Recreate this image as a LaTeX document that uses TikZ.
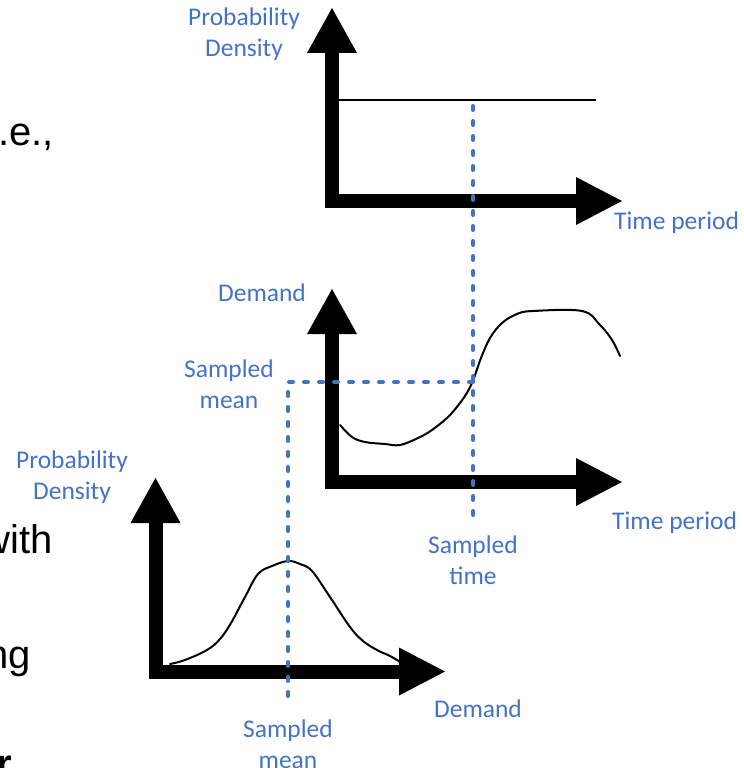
\documentclass[tikz,border=0pt]{standalone}
\usepackage{fontspec}
\setmainfont{Carlito}
\newfontfamily\slidefont{Liberation Sans}
\usetikzlibrary{calc}
\definecolor{lblblue}{HTML}{4472C4}

% thick L-shaped axes with triangular heads: #1,#2 = origin, #3 = top of shaft, #4 = end of shaft
\newcommand\drawaxes[4]{%
  \draw[axisbar] (#1,#3) -- (#1,#2) -- (#4,#2);
  \fill (#1-25,#3) -- (#1,#3-45) -- (#1+25,#3) -- cycle;
  \fill (#4,#2-24) -- (#4+46,#2) -- (#4,#2+24) -- cycle;
}

\begin{document}
\begin{tikzpicture}[x=1bp,y=-1bp,
  axisbar/.style={line width=14bp, line join=miter},
  curve/.style={line width=2bp, line join=round, line cap=round},
  guide/.style={lblblue, line width=4bp, line cap=round, dash pattern=on 4bp off 11bp},
  lbl/.style={text=lblblue, font=\fontsize{25.5bp}{31bp}\selectfont, inner sep=0pt, align=center},
  slide/.style={font=\slidefont\fontsize{40bp}{48bp}\selectfont, inner sep=0pt, anchor=base east}]
\useasboundingbox (0,0) rectangle (744,768);
\clip (0,0) rectangle (744,768);

% fragments of the slide text at the left edge
\node[slide] (t1) at (54,145) {i.e.,};
\node[slide] (t2) at (53,553) {with};
\node[slide] (t3) at (31,668) {ng};
\node[slide, font=\slidefont\bfseries\fontsize{40bp}{48bp}\selectfont, anchor=base west] (t4) at (-4,777) {r};

% top panel: uniform density over time
\drawaxes{332}{201}{53}{576}
\draw[line width=1.5bp] (339,100) -- (596,100);

% middle panel: demand over time
\drawaxes{332}{482}{334}{576}
\draw[curve] plot[smooth, tension=0.6] coordinates {
  (340,425) (352,437) (365,442) (385,444) (400,445) (418,438) (432,430)
  (448,417) (460,403) (468,391) (474,378) (481,358) (490,338) (502,323)
  (517,314) (533,311) (582,311) (600,325) (612,340) (620,356)};

% bottom panel: demand distribution at the sampled time
\drawaxes{155.5}{671.5}{523}{399}
\draw[curve] plot[smooth, tension=0.6] coordinates {
  (170,664) (185,660) (207,650) (220,639) (231,623) (245,597) (258,574)
  (272,566) (288,561) (300,564) (312,571) (330,597) (350,627) (363,641)
  (377,650) (390,656) (402,663)};

% sampling guides
\coordinate (timeTop) at (473,106);
\coordinate (timeBot) at (473,526);
\coordinate (hit) at (473,382);
\coordinate (meanCorner) at (288,382);
\coordinate (meanBot) at (288,700);
\draw[guide] (timeTop) -- (timeBot);
\draw[guide] (hit) -- (meanCorner) -- (meanBot);

% labels
\node[lbl] (pd1) at (244,34) {Probability\\Density};
\node[lbl, anchor=west] (tp1) at (614,223) {Time period};
\node[lbl] (dem1) at (262,293) {Demand};
\node[lbl] (sm1) at (229,384) {Sampled\\mean};
\node[lbl] (pd2) at (72,477) {Probability\\Density};
\node[lbl, anchor=west] (tp2) at (612,523) {Time period};
\node[lbl] (st) at (473,560) {Sampled\\time};
\node[lbl] (sm2) at (288,744) {Sampled\\mean};
\node[lbl] (dem2) at (478,709) {Demand};
\end{tikzpicture}
\end{document}
